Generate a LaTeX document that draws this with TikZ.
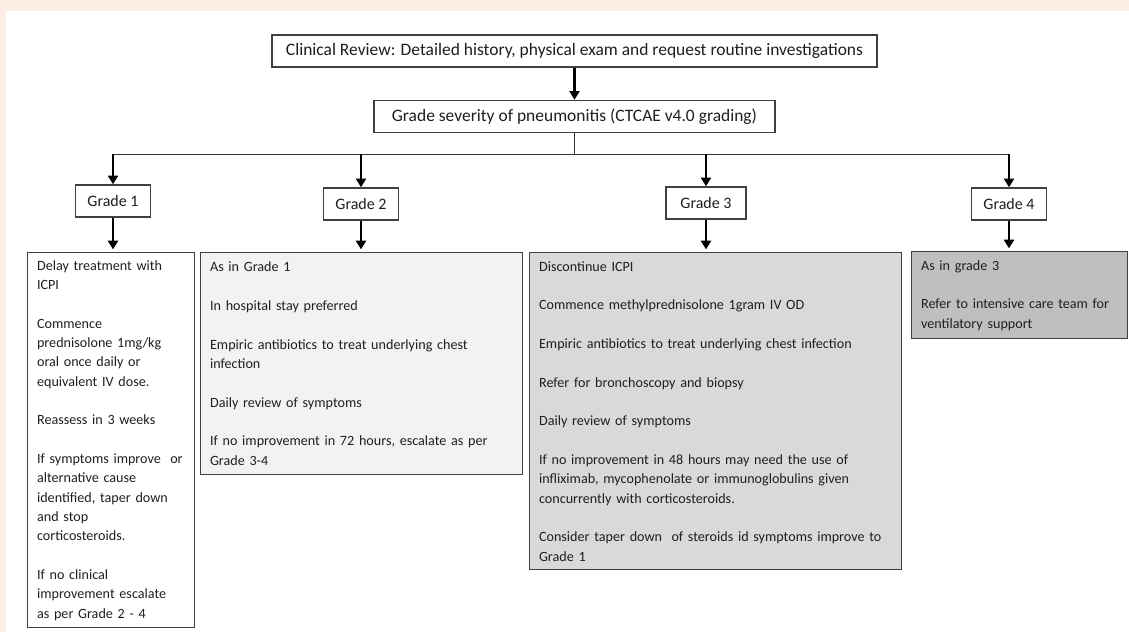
\documentclass[tikz,border=0pt]{standalone}
\usepackage{fontspec}
\setmainfont{Carlito}
\usetikzlibrary{arrows.meta, positioning, calc}

\definecolor{pagebg}{HTML}{FCEEE4}
\definecolor{boxline}{HTML}{404040}
\definecolor{inktext}{HTML}{1F1F1F}
\definecolor{gradetwo}{HTML}{F2F2F2}
\definecolor{gradethree}{HTML}{D9D9D9}
\definecolor{gradefour}{HTML}{BFBFBF}

\newcommand{\headfont}{\fontsize{13.1pt}{15pt}\selectfont}
\newcommand{\gradefont}{\fontsize{12pt}{14pt}\selectfont}
\newcommand{\bodyfont}{\fontsize{10.6pt}{14.5pt}\selectfont}
\newcommand{\gapline}{\\[14.5pt]}

\begin{document}
\begin{tikzpicture}[x=0.75pt, y=-0.75pt, >={Triangle[width=7.5pt,length=6.5pt]},
    headbox/.style={rectangle, draw=boxline, line width=1.1pt, fill=white, text=inktext, font=\headfont, inner sep=0pt, minimum height=24pt},
    gradebox/.style={headbox, font=\gradefont, minimum width=56pt},
    infobox/.style={rectangle, draw=boxline, line width=1.1pt, anchor=north west, align=left, text=inktext, font=\bodyfont, inner xsep=7pt, inner ysep=0pt},
    thick arrow/.style={->, line width=2.2pt},
    bar/.style={line width=1pt, draw=black!80}]
  \useasboundingbox (0,0) rectangle (1129,632);
  \fill[pagebg] (0,0) rectangle (1129,632);
  \fill[white] (6,11) rectangle (1129,632);

  % Review and grading
  \node[headbox, minimum width=453.75pt] (review) at (574.5,51) {Clinical Review: Detailed history, physical exam and request routine investigations};
  \node[headbox, minimum width=300.75pt, below=24pt of review] (severity) {Grade severity of pneumonitis (CTCAE v4.0 grading)};
  \coordinate (hub) at ($(severity.south)+(0,21)$);

  % Grades
  \node[gradebox] (grade1) at (113,201) {Grade 1};
  \node[gradebox] (grade2) at (361,204) {Grade 2};
  \node[gradebox, minimum width=60pt] (grade3) at (706,203) {Grade 3};
  \node[gradebox] (grade4) at (1009,204) {Grade 4};
  \coordinate (split1) at (grade1 |- hub);
  \coordinate (split2) at (grade2 |- hub);
  \coordinate (split3) at (grade3 |- hub);
  \coordinate (split4) at (grade4 |- hub);

  % Management per grade
  \node[infobox, text width=111.25pt, minimum height=281.25pt, fill=white] (care1) at (27,252) {Delay treatment with\\ ICPI\gapline
    Commence\\ prednisolone 1mg/kg\\ oral once daily or\\ equivalent IV dose.\gapline
    Reassess in 3 weeks\gapline
    \mbox{If symptoms improve\ \ or}\\ alternative cause\\ \mbox{identified, taper down}\\ and stop\\ corticosteroids.\gapline
    If no clinical\\ \mbox{improvement escalate}\\ as per Grade 2 - 4};
  \node[infobox, text width=227.5pt, minimum height=166.5pt, fill=gradetwo] (care2) at (200,252) {As in Grade 1\gapline
    In hospital stay preferred\gapline
    Empiric antibiotics to treat underlying chest\\ infection\gapline
    Daily review of symptoms\gapline
    If no improvement in 72 hours, escalate as per\\ Grade 3-4};
  \node[infobox, text width=265pt, minimum height=237.75pt, fill=gradethree] (care3) at (529,252) {Discontinue ICPI\gapline
    Commence methylprednisolone 1gram IV OD\gapline
    Empiric antibiotics to treat underlying chest infection\gapline
    Refer for bronchoscopy and biopsy\gapline
    Daily review of symptoms\gapline
    If no improvement in 48 hours may need the use of\\ \mbox{infliximab, mycophenolate or immunoglobulins given}\\ concurrently with corticosteroids.\gapline
    \mbox{Consider taper down\ \ of steroids id symptoms improve to}\\ Grade 1};
  \node[infobox, text width=148pt, minimum height=65.25pt, fill=gradefour] (care4) at (911,251) {As in grade 3\gapline
    Refer to intensive care team for\\ ventilatory support};

  % Connectors
  \draw[thick arrow] (review) -- (severity);
  \draw[bar] (severity) -- (hub);
  \draw[bar] (split1) -- (split4);
  \foreach \g in {1,...,4} {
    \draw[thick arrow] (split\g) -- (grade\g);
    \draw[thick arrow, shorten >=2pt] (grade\g) -- (grade\g |- care\g.north);
  }
\end{tikzpicture}
\end{document}
